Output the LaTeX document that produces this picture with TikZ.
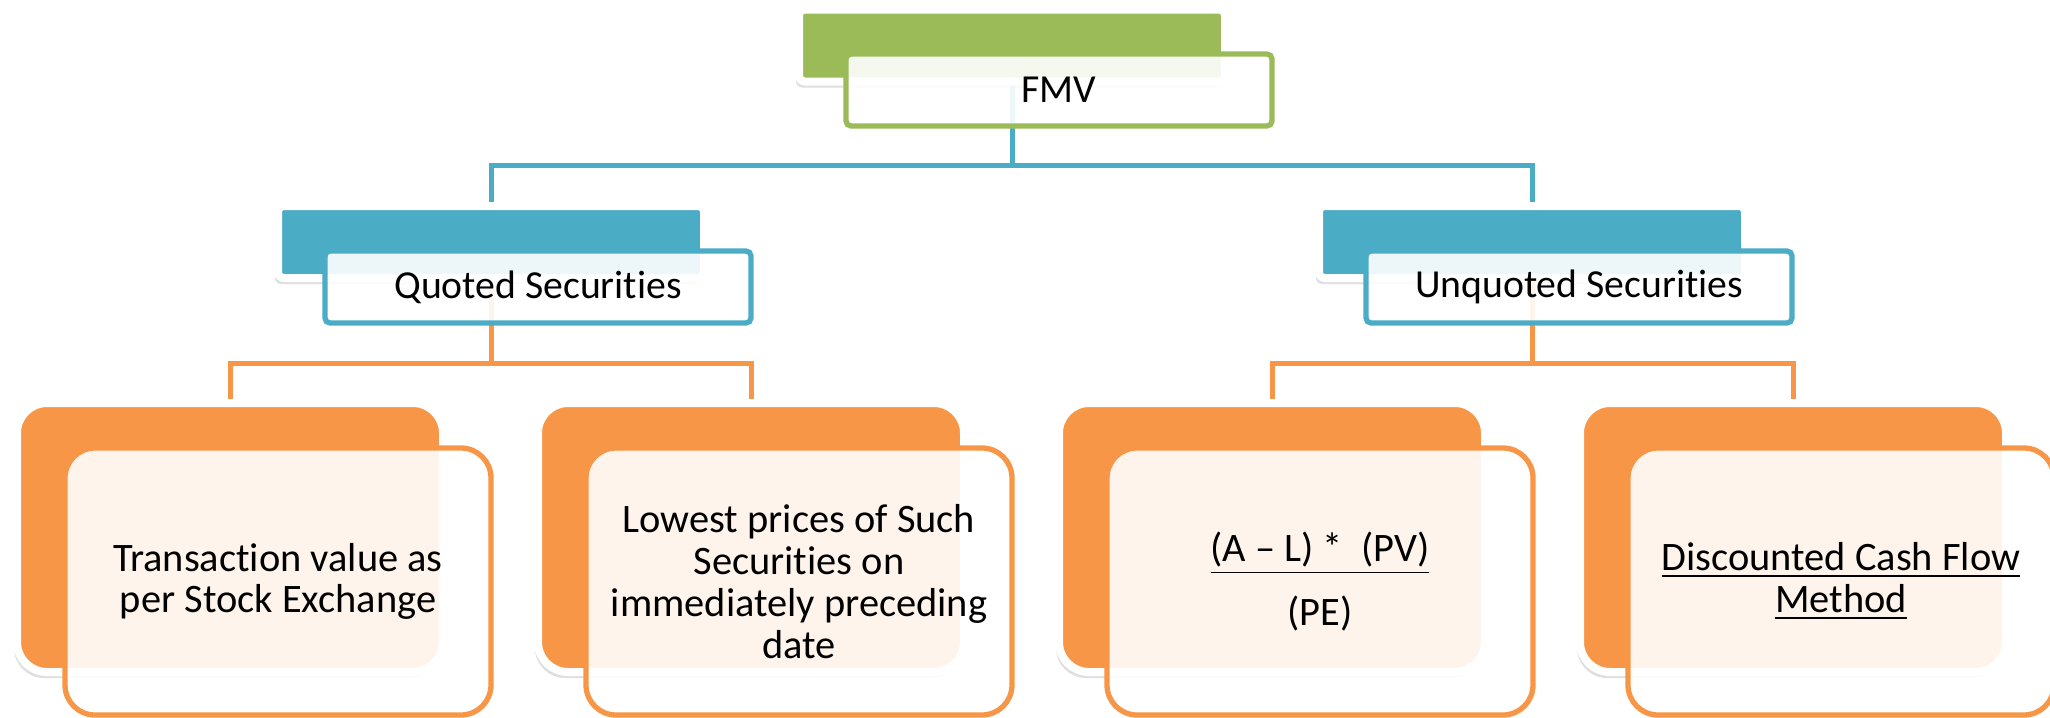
\documentclass[tikz,border=0pt]{standalone}
\usepackage{fontspec}
\setmainfont{Carlito}[Ligatures={TeX,NoCommon}]
\usetikzlibrary{shadows,backgrounds}
\definecolor{fmvgreen}{HTML}{9BBB59}
\definecolor{secblue}{HTML}{4BACC6}
\definecolor{leaforange}{HTML}{F79646}
\tikzset{
  backbox/.style={draw=white, line width=0.8mm, rounded corners=0.6mm,
    minimum width=42.6mm, minimum height=7.2mm,
    drop shadow={opacity=0.25, shadow xshift=-0.3mm, shadow yshift=-0.6mm}},
  frontbox/.style={fill=white, fill opacity=0.9, text opacity=1, line width=0.53mm,
    rounded corners=0.5mm, minimum width=42.6mm, minimum height=7.2mm,
    align=center, font=\fontsize{11.3}{13}\selectfont},
  leafback/.style={backbox, fill=leaforange, rounded corners=3mm, minimum height=26.9mm},
  leaffront/.style={frontbox, draw=leaforange, rounded corners=3mm, minimum height=26.7mm,
    font=\fontsize{11.5}{11.9}\selectfont},
  bluelink/.style={draw=secblue, line width=0.5mm},
  orangelink/.style={draw=leaforange, line width=0.5mm}
}
\begin{document}
\begin{tikzpicture}[x=0.1mm, y=-0.1mm]
  \useasboundingbox (0,0) rectangle (2050,718);

  \node[backbox, fill=fmvgreen] (fmvback) at (1012,45.5) {};
  \node[frontbox, draw=fmvgreen] (fmv) at ([shift={(47,44.5)}]fmvback.center) {FMV};

  \node[backbox, fill=secblue] (quotedback) at (491,242) {};
  \node[frontbox, draw=secblue] (quoted) at ([shift={(47,45)}]quotedback.center) {Quoted Securities};
  \node[backbox, fill=secblue] (unquotedback) at (1532,242) {};
  \node[frontbox, draw=secblue] (unquoted) at ([shift={(47,45)}]unquotedback.center) {Unquoted Securities};

  \node[leafback] (transback) at (230,537.5) {};
  \node[leaffront] (trans) at ([shift={(48,44)}]transback.center) {Transaction value as\\per Stock Exchange};
  \node[leafback] (lowestback) at (751,537.5) {};
  \node[leaffront] (lowest) at ([shift={(48,44)}]lowestback.center) {Lowest prices of Such\\Securities on\\immediately preceding\\date};
  \node[leafback] (formulaback) at (1272,537.5) {};
  \node[leaffront] (formula) at ([shift={(48,44)}]formulaback.center) {\underline{(A – L) *\ \ (PV)}\\[5pt](PE)};
  \node[leafback] (dcfback) at (1793,537.5) {};
  \node[leaffront] (dcf) at ([shift={(48,44)}]dcfback.center) {\underline{Discounted Cash Flow}\\\underline{Method}};

  \begin{scope}[on background layer]
    \draw[bluelink] (fmvback.south) -- ++(0,80) -| (quotedback.north);
    \draw[bluelink] (fmvback.south) -- ++(0,80) -| (unquotedback.north);
    \draw[orangelink] (quotedback.south) -- ++(0,81) -| (transback.north);
    \draw[orangelink] (quotedback.south) -- ++(0,81) -| (lowestback.north);
    \draw[orangelink] (unquotedback.south) -- ++(0,81) -| (formulaback.north);
    \draw[orangelink] (unquotedback.south) -- ++(0,81) -| (dcfback.north);
  \end{scope}
\end{tikzpicture}
\end{document}
